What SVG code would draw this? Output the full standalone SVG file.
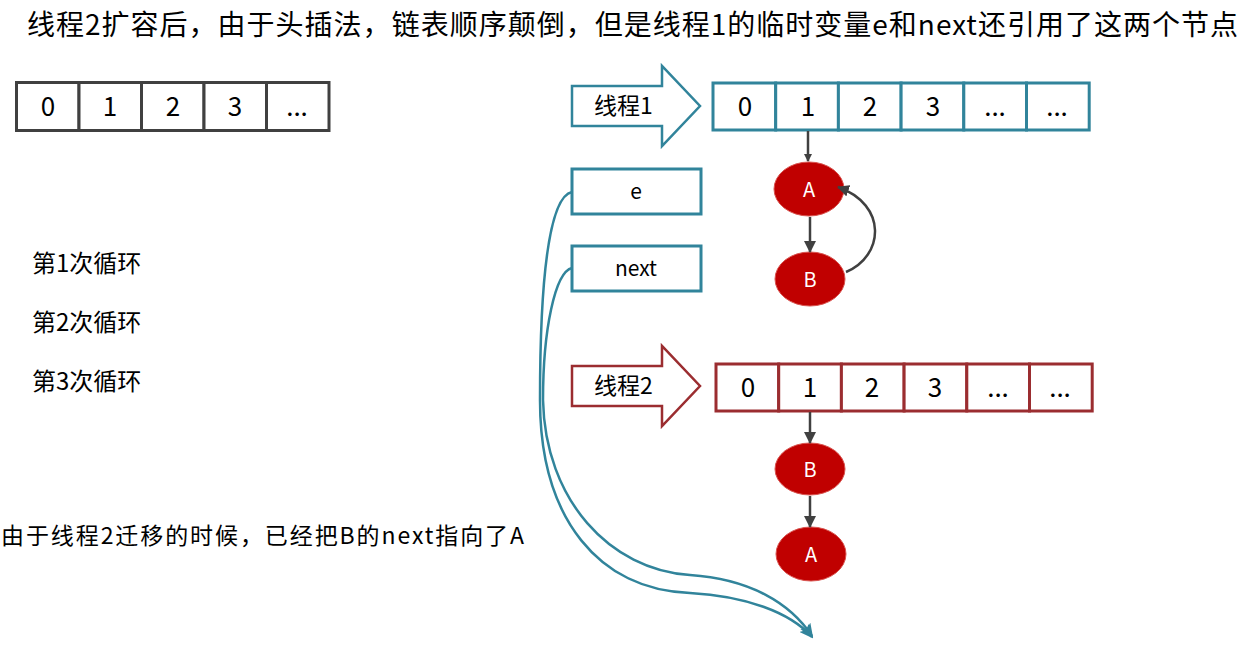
<svg xmlns="http://www.w3.org/2000/svg" width="1251" height="663" viewBox="0 0 1251 663">
<style>
text{font-family:"Noto Sans CJK SC","Noto Sans",sans-serif;fill:#000}
.t{font-size:28px}
.lbl{font-size:23px}
.dig{font-size:26px;text-anchor:middle}
.cell0{fill:#fff;stroke:#404040;stroke-width:3}
.cell1{fill:#fff;stroke:#31849B;stroke-width:3}
.cell2{fill:#fff;stroke:#9B2D30;stroke-width:3}
.arr1{fill:#fff;stroke:#31849B;stroke-width:2.5}
.arr2{fill:#fff;stroke:#9B2D30;stroke-width:2.5}
.node{fill:#C00000;stroke:#D9534F;stroke-width:1}
.nt{font-size:20px;fill:#fff;text-anchor:middle}
.var{fill:#fff;stroke:#31849B;stroke-width:3}
.vt{font-size:21px;text-anchor:middle}
.c{fill:none;stroke:#404040;stroke-width:2.5}
.tc{fill:none;stroke:#31849B;stroke-width:2.5}
</style>
<defs>
<marker id="ah" markerWidth="8" markerHeight="8" refX="7" refY="4" orient="auto" markerUnits="userSpaceOnUse"><path d="M0,0 L8,4 L0,8 z" fill="#404040"/></marker>
<marker id="ahl" markerWidth="12" markerHeight="12" refX="11" refY="6" orient="auto" markerUnits="userSpaceOnUse"><path d="M0,0 L12,6 L0,12 z" fill="#404040"/></marker>
<marker id="at" markerWidth="14" markerHeight="12" refX="12" refY="6" orient="auto" markerUnits="userSpaceOnUse"><path d="M0,0 L14,6 L0,12 L3,6 z" fill="#31849B"/></marker>
</defs>

<g id="title"><text class="t" x="27" y="35" textLength="1211" lengthAdjust="spacing">线程2扩容后，由于头插法，链表顺序颠倒，但是线程1的临时变量e和next还引用了这两个节点</text></g>

<g id="array0">
<rect class="cell0" x="16.5" y="82.5" width="62.5" height="48"/>
<rect class="cell0" x="79" y="82.5" width="62.5" height="48"/>
<rect class="cell0" x="141.5" y="82.5" width="62.5" height="48"/>
<rect class="cell0" x="204" y="82.5" width="62.5" height="48"/>
<rect class="cell0" x="266.5" y="82.5" width="62.5" height="48"/>
<text class="dig" x="48" y="116">0</text>
<text class="dig" x="110" y="116">1</text>
<text class="dig" x="173" y="116">2</text>
<text class="dig" x="235" y="116">3</text>
<text class="dig" x="297" y="116">...</text>
</g>

<g id="thread1">
<polygon class="arr1" points="572,86 662,86 662,66 700,106 662,146 662,126 572,126"/>
<text class="lbl" x="594" y="114">线程1</text>
</g>

<g id="array1">
<rect class="cell1" x="713" y="83" width="62.7" height="47"/>
<rect class="cell1" x="775.7" y="83" width="62.7" height="47"/>
<rect class="cell1" x="838.4" y="83" width="62.7" height="47"/>
<rect class="cell1" x="901.1" y="83" width="62.7" height="47"/>
<rect class="cell1" x="963.8" y="83" width="62.7" height="47"/>
<rect class="cell1" x="1026.5" y="83" width="62.7" height="47"/>
<text class="dig" x="745" y="116">0</text>
<text class="dig" x="808" y="116">1</text>
<text class="dig" x="870" y="116">2</text>
<text class="dig" x="933" y="116">3</text>
<text class="dig" x="995" y="116">...</text>
<text class="dig" x="1057" y="116">...</text>
</g>

<g id="var-e"><rect class="var" x="572" y="169" width="129" height="45"/><text class="vt" x="636" y="199">e</text></g>
<g id="var-next"><rect class="var" x="572" y="246" width="129" height="45"/><text class="vt" x="636" y="276">next</text></g>

<g id="t1-A"><ellipse class="node" cx="809" cy="189" rx="35" ry="27"/><text class="nt" x="809" y="197">A</text></g>
<g id="t1-B"><ellipse class="node" cx="810" cy="279" rx="35" ry="27"/><text class="nt" x="810" y="287">B</text></g>

<g id="thread2">
<polygon class="arr2" points="572,366 662,366 662,346 700,386 662,426 662,406 572,406"/>
<text class="lbl" x="594" y="394">线程2</text>
</g>

<g id="array2">
<rect class="cell2" x="716" y="364" width="62.7" height="47"/>
<rect class="cell2" x="778.7" y="364" width="62.7" height="47"/>
<rect class="cell2" x="841.4" y="364" width="62.7" height="47"/>
<rect class="cell2" x="904.1" y="364" width="62.7" height="47"/>
<rect class="cell2" x="966.8" y="364" width="62.7" height="47"/>
<rect class="cell2" x="1029.5" y="364" width="62.7" height="47"/>
<text class="dig" x="748" y="397">0</text>
<text class="dig" x="810" y="397">1</text>
<text class="dig" x="872" y="397">2</text>
<text class="dig" x="935" y="397">3</text>
<text class="dig" x="998" y="397">...</text>
<text class="dig" x="1060" y="397">...</text>
</g>

<g id="t2-B"><ellipse class="node" cx="810" cy="469" rx="35" ry="26"/><text class="nt" x="810" y="477">B</text></g>
<g id="t2-A"><ellipse class="node" cx="811" cy="554" rx="35" ry="27"/><text class="nt" x="811" y="562">A</text></g>

<g id="loops">
<text style="font-size:24px" x="32" y="272">第1次循环</text>
<text style="font-size:24px" x="32" y="331">第2次循环</text>
<text style="font-size:24px" x="32" y="390">第3次循环</text>
</g>

<g id="note"><text style="font-size:23px" x="1" y="544" textLength="523" lengthAdjust="spacing">由于线程2迁移的时候，已经把B的next指向了A</text></g>

<g id="connectors">
<path class="c" d="M808 131 L808 161" marker-end="url(#ah)"/>
<path class="c" d="M810 217 L810 252" marker-end="url(#ahl)"/>
<path class="c" d="M846 272 C884 256 888 205 838 187" marker-end="url(#ahl)"/>
<path class="c" d="M810 412 L810 443" marker-end="url(#ahl)"/>
<path class="c" d="M810 496 L810 527" marker-end="url(#ahl)"/>
<path class="tc" d="M572 192 C552 196 540 260 540 400 C540 520 600 590 690 593 C745 596 790 612 812 637" marker-end="url(#at)"/>
<path class="tc" d="M572 268 C555 272 543 330 543 400 C545 500 610 570 690 575 C750 579 790 603 812 636" marker-end="url(#at)"/>
</g>
</svg>
